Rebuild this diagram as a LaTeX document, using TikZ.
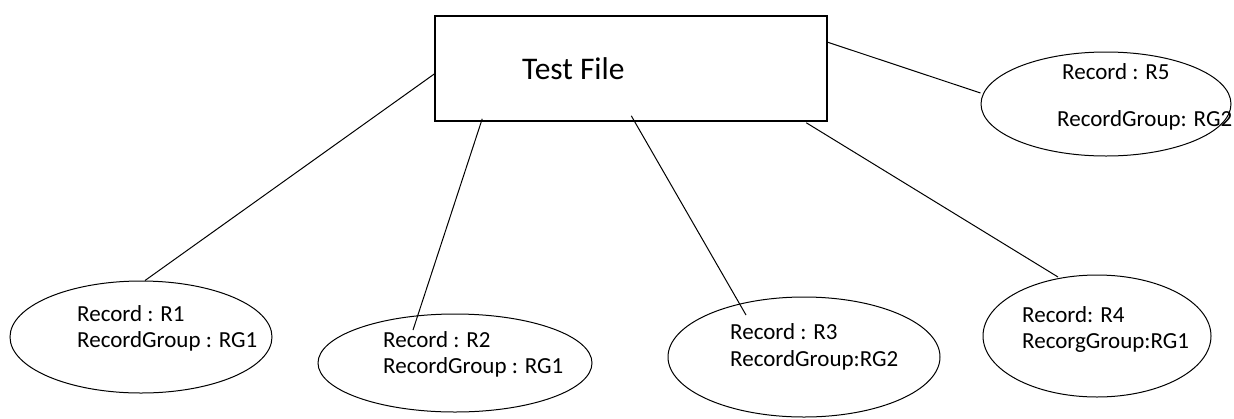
\documentclass[tikz,border=0pt]{standalone}
\usepackage{fontspec}
\setmainfont{Carlito}
\usetikzlibrary{shapes.geometric}
\begin{document}
\begin{tikzpicture}[x=1pt,y=-1pt,
  rec/.style={ellipse, draw, line width=1pt, inner sep=0pt},
  lbl/.style={anchor=base west, inner sep=0pt, font=\fontsize{23}{26}\selectfont},
  conn/.style={line width=1pt}]
\useasboundingbox (0,0) rectangle (1234,418);
% main box
\node[draw, line width=1.5pt, minimum width=392pt, minimum height=105pt, inner sep=0pt] (box) at (631,68.5) {};
\node[anchor=base west, inner sep=0pt, font=\fontsize{31.5}{36}\selectfont] (title) at (522,79) {Test File};
% ellipses
\node[rec, minimum width=262pt, minimum height=112pt] (e1) at (141,337) {};
\node[rec, minimum width=274pt, minimum height=98pt]  (e2) at (455,363) {};
\node[rec, minimum width=272pt, minimum height=120pt] (e3) at (804,357) {};
\node[rec, minimum width=228pt, minimum height=122pt] (e4) at (1097,336) {};
\node[rec, minimum width=250pt, minimum height=104pt] (e5) at (1106,104) {};
% labels
\node[lbl] (t1a) at (77,321) {Record : R1};
\node[lbl] (t1b) at (77,347) {RecordGroup : RG1};
\node[lbl] (t2a) at (383,347) {Record : R2};
\node[lbl] (t2b) at (383,373) {RecordGroup : RG1};
\node[lbl] (t3a) at (730,339) {Record : R3};
\node[lbl] (t3b) at (730,366) {RecordGroup:RG2};
\node[lbl] (t4a) at (1022,322) {Record: R4};
\node[lbl] (t4b) at (1022,348) {RecorgGroup:RG1};
\node[lbl] (t5a) at (1062,79) {Record : R5};
\node[lbl] (t5b) at (1057,126) {RecordGroup: RG2};
% connectors
\draw[conn] ([yshift=-5.5pt]box.west) -- ([xshift=4pt]e1.north);
\draw[conn] ([xshift=48pt,yshift=3pt]box.south west) -- ([xshift=-42pt,yshift=33pt]e2.center);
\draw[conn] ([xshift=197pt,yshift=6pt]box.south west) -- ([xshift=-58pt,yshift=42pt]e3.center);
\draw[conn] ([xshift=372pt,yshift=-1pt]box.south west) -- ([xshift=-39pt,yshift=59pt]e4.center);
\draw[conn] ([yshift=-27pt]box.north east) -- ([yshift=11pt]e5.west);
\end{tikzpicture}
\end{document}
